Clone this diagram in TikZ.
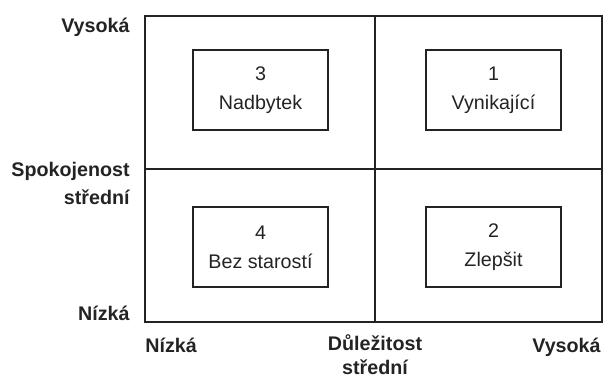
\documentclass[tikz,border=0pt]{standalone}
\usepackage{fontspec}
\setmainfont{Liberation Sans}
\usetikzlibrary{positioning}
\definecolor{inkgray}{RGB}{35,35,35}

\begin{document}
\begin{tikzpicture}[x=0.5pt,y=-0.5pt,
    every node/.style={text=inkgray,font=\fontsize{9.85}{14.5}\selectfont},
    quad/.style={draw=inkgray,line width=0.8pt,minimum width=67.5pt,minimum height=40pt,align=center,inner sep=0pt},
    axislab/.style={font=\fontsize{9.85}{14}\selectfont\bfseries,inner sep=0pt}]
    \useasboundingbox (0,0) rectangle (604,378);

    % frame and the two dividing lines
    \draw[inkgray,line width=1pt] (145,16) rectangle (602,322);
    \draw[inkgray,line width=1pt] (375,16) -- (375,322);
    \draw[inkgray,line width=1pt] (145,169) -- (602,169);

    \node[quad] (nadbytek) at (260.5,90) {3\\Nadbytek};
    \node[quad] (vynikajici) at (493.5,90) {1\\Vynikající};
    \node[quad] (bezstarosti) at (260.5,247) {4\\Bez starostí};
    \node[quad] (zlepsit) at (493.5,247) {2\\Zlepšit};

    % satisfaction axis (base = last line)
    \node[axislab,anchor=base east] (spvys) at (130,33) {Vysoká};
    \node[axislab,anchor=base east,align=right] (spstr) at (130,205) {Spokojenost\\střední};
    \node[axislab,anchor=base east] (spniz) at (130,321) {Nízká};

    % importance axis
    \node[axislab,anchor=base west] (dlniz) at (145,353) {Nízká};
    \node[axislab,anchor=base,align=center,font=\fontsize{9.85}{12}\selectfont\bfseries] (dlstr) at (375,375) {Důležitost\\střední};
    \node[axislab,anchor=base east] (dlvys) at (601,353) {Vysoká};
\end{tikzpicture}
\end{document}
